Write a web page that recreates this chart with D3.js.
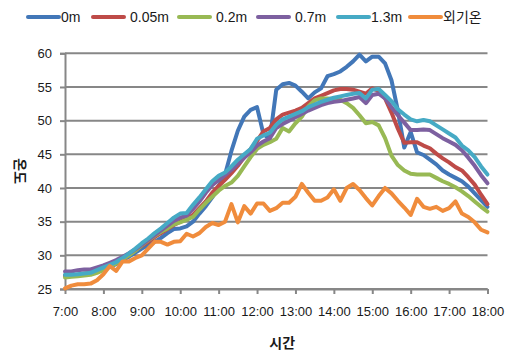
<!DOCTYPE html>
<html>
<head>
<meta charset="utf-8">
<script src="https://cdn.jsdelivr.net/npm/d3@7/dist/d3.min.js"></script>
<style>
  html, body { margin: 0; padding: 0; background: #fff; }
  svg { display: block; font-family: "Liberation Sans", Arial, "Noto Sans CJK KR", sans-serif; }
</style>
</head>
<body>
<svg id="chart" width="508" height="354"></svg>
<script>
// Temperature readings every 10 minutes, 7:00 – 18:00
const seriesNames = ["0m", "0.05m", "0.2m", "0.7m", "1.3m", "외기온"];
const seriesColors = ["#4277B8", "#BE4B48", "#98B954", "#7D60A0", "#46AAC5", "#F08C3C"];

const depth0m = [
  27.0, 27.0, 27.1, 27.2, 27.3, 27.6, 27.9, 28.3, 28.7, 29.3, 29.8, 30.4,
  31.0, 31.5, 32.0, 32.6, 33.3, 33.9, 34.0, 34.3, 35.0, 36.2, 37.3, 38.6,
  40.3, 42.0, 45.5, 48.5, 50.6, 51.6, 52.0, 48.0, 47.3, 54.6, 55.4, 55.6,
  55.2, 54.3, 53.3, 54.2, 54.8, 56.6, 56.9, 57.3, 58.0, 58.8, 59.8, 58.8,
  59.5, 59.5, 58.5, 56.0, 51.5, 46.0, 48.3, 45.3, 44.9, 44.2, 43.5, 42.6,
  42.0, 41.5, 41.0, 40.2, 39.2, 38.2, 37.2
];
const depth005m = [
  27.0, 27.0, 27.1, 27.3, 27.4, 27.7, 28.0, 28.4, 28.8, 29.4, 30.1, 30.8,
  31.4, 32.0, 32.7, 33.3, 33.9, 34.5, 35.0, 35.4, 36.0, 37.0, 38.0, 39.3,
  40.3, 41.2, 42.2, 43.3, 44.6, 45.8, 47.0, 48.4, 48.9, 50.2, 50.9, 51.2,
  51.5, 51.9, 52.6, 53.3, 53.7, 54.1, 54.5, 54.7, 54.7, 54.6, 54.3, 54.0,
  54.8, 54.4, 53.3, 51.2, 48.8, 46.7, 46.8, 46.8, 46.3, 45.9, 45.1, 44.4,
  43.8, 43.1, 42.6, 41.6, 40.5, 39.0, 37.6
];
const depth02m = [
  26.7, 26.8, 26.9, 27.0, 27.1, 27.4, 27.8, 28.3, 28.8, 29.4, 30.0, 30.7,
  31.5, 32.2, 32.9, 33.5, 34.0, 34.6, 34.9, 35.3, 35.7, 36.8, 37.8, 38.7,
  39.6, 40.3, 40.8, 41.8, 43.2, 44.6, 45.8, 46.4, 46.8, 47.3, 48.9, 48.4,
  49.6, 50.6, 52.1, 53.0, 53.3, 53.3, 53.2, 53.1, 52.6, 51.9, 50.8, 49.6,
  49.8, 49.3, 47.4, 44.8, 43.4, 42.6, 42.1, 42.0, 42.0, 42.0, 41.5, 41.0,
  40.6, 40.1, 39.5, 38.8, 38.0, 37.2, 36.5
];
const depth07m = [
  27.6, 27.6, 27.8, 27.9, 27.9, 28.2, 28.5, 28.9, 29.3, 29.8, 30.3, 30.9,
  31.6, 32.3, 33.0, 33.7, 34.4, 35.1, 35.6, 35.9, 36.9, 38.0, 39.3, 40.4,
  41.2, 41.9, 42.7, 43.6, 44.5, 45.3, 46.3, 46.9, 47.4, 48.9, 49.5, 50.0,
  50.5, 51.0, 51.5, 51.9, 52.3, 52.6, 52.8, 52.9, 53.1, 53.3, 53.5, 52.6,
  53.8, 54.0, 53.3, 52.0, 50.8, 49.7, 48.6, 48.6, 48.7, 48.6, 48.0, 47.4,
  46.9, 46.4, 45.6, 44.5, 43.3, 41.9, 40.7
];
const depth13m = [
  27.1, 27.1, 27.2, 27.3, 27.4, 27.8, 28.2, 28.6, 29.0, 29.6, 30.3, 31.0,
  31.8, 32.5, 33.3, 34.0, 34.8, 35.6, 36.2, 36.3, 37.5, 38.6, 39.8, 41.0,
  41.8, 42.3, 43.2, 44.2, 45.0, 45.8, 47.3, 47.8, 48.2, 49.4, 50.2, 50.6,
  51.0, 51.4, 52.0, 52.4, 52.8, 53.1, 53.4, 53.6, 53.8, 54.0, 54.1, 53.3,
  54.6, 54.7, 53.8, 52.9, 51.7, 50.9, 50.2, 49.9, 50.1, 49.9, 49.3, 48.7,
  48.1, 47.5, 46.3, 45.6, 44.6, 43.2, 42.0
];
const outdoor = [
  25.1, 25.5, 25.7, 25.7, 25.8, 26.3, 27.2, 28.4, 27.7, 29.1, 29.1, 29.6,
  30.0, 31.0, 32.0, 32.0, 31.6, 32.0, 32.1, 33.2, 32.8, 33.3, 34.2, 34.8,
  34.5, 35.0, 37.6, 34.9, 37.3, 36.2, 37.7, 37.7, 36.6, 37.0, 37.8, 37.8,
  38.7, 40.6, 39.3, 38.1, 38.1, 38.6, 39.8, 38.1, 40.0, 40.6, 39.7, 38.5,
  37.4, 38.8, 40.0, 39.2, 38.1, 37.1, 36.0, 38.4, 37.2, 36.9, 37.2, 36.6,
  37.0, 38.0, 36.2, 35.7, 34.9, 33.8, 33.4
];
const seriesValues = [depth0m, depth005m, depth02m, depth07m, depth13m, outdoor];

const hourLabels = ["7:00", "8:00", "9:00", "10:00", "11:00", "12:00",
                    "13:00", "14:00", "15:00", "16:00", "17:00", "18:00"];
const yTicks = [25, 30, 35, 40, 45, 50, 55, 60];
const xTitle = "시간";
const yTitle = "온도";

// minutes since midnight for each reading
const minutes = d3.range(depth0m.length).map(i => 420 + i * 10);

const svg = d3.select("#chart");
const plot = { left: 65, right: 487.5, top: 53.3, bottom: 289 };

const x = d3.scaleLinear().domain([420, 1080]).range([plot.left, plot.right]);
const y = d3.scaleLinear().domain([25, 60]).range([plot.bottom, plot.top]);

const gridColor = "#878787";
const textColor = "#1a1a1a";

// horizontal gridlines
svg.append("g")
  .selectAll("line")
  .data(yTicks)
  .join("line")
  .attr("x1", plot.left).attr("x2", plot.right)
  .attr("y1", d => y(d)).attr("y2", d => y(d))
  .attr("stroke", gridColor).attr("stroke-width", 2);

// y axis
const yAxis = svg.append("g")
  .attr("transform", `translate(${plot.left},0)`)
  .call(d3.axisLeft(y).tickValues(yTicks).tickSize(5).tickPadding(8).tickFormat(d3.format("d")));
yAxis.select(".domain").attr("stroke", gridColor).attr("stroke-width", 2);
yAxis.selectAll(".tick line").attr("stroke", gridColor).attr("stroke-width", 2);
yAxis.selectAll(".tick text").attr("fill", textColor).attr("font-size", 13).attr("font-family", null);

// x axis, hourly ticks
const hourScale = d3.scalePoint().domain(hourLabels).range([plot.left, plot.right]);
const xAxis = svg.append("g")
  .attr("transform", `translate(0,${plot.bottom})`)
  .call(d3.axisBottom(hourScale).tickSize(5).tickPadding(13).tickSizeOuter(0));
xAxis.select(".domain").attr("stroke", gridColor).attr("stroke-width", 2);
xAxis.selectAll(".tick line").attr("stroke", gridColor).attr("stroke-width", 2);
xAxis.selectAll(".tick text").attr("fill", textColor).attr("font-size", 13).attr("font-family", null);

// series lines
const line = d3.line()
  .x((d, i) => x(minutes[i]))
  .y(d => y(d));

svg.append("g")
  .selectAll("path")
  .data(seriesValues)
  .join("path")
  .attr("d", d => line(d))
  .attr("fill", "none")
  .attr("stroke", (d, i) => seriesColors[i])
  .attr("stroke-width", 4)
  .attr("stroke-linejoin", "round")
  .attr("stroke-linecap", "round");

// axis titles
svg.append("text")
  .attr("x", (plot.left + plot.right) / 2 + 6)
  .attr("y", 348)
  .attr("text-anchor", "middle")
  .attr("font-size", 14).attr("font-weight", "bold")
  .attr("fill", textColor)
  .text(xTitle);

svg.append("text")
  .attr("transform", `translate(15,${(plot.top + plot.bottom) / 2}) rotate(90)`)
  .attr("text-anchor", "middle")
  .attr("font-size", 14).attr("font-weight", "bold")
  .attr("fill", textColor)
  .text(yTitle);

// legend across the top
const legendStarts = [27, 92, 178, 257, 337, 409];
const legend = svg.append("g");
seriesNames.forEach((name, i) => {
  const g = legend.append("g").attr("transform", `translate(${legendStarts[i]},17)`);
  g.append("line")
    .attr("x1", 1).attr("x2", 32)
    .attr("stroke", seriesColors[i]).attr("stroke-width", 4)
    .attr("stroke-linecap", "round");
  g.append("text")
    .attr("x", i === 0 || i >= 4 ? 34 : 38)
    .attr("y", 5)
    .attr("font-size", 14)
    .attr("fill", textColor)
    .text(name);
});
</script>
</body>
</html>
